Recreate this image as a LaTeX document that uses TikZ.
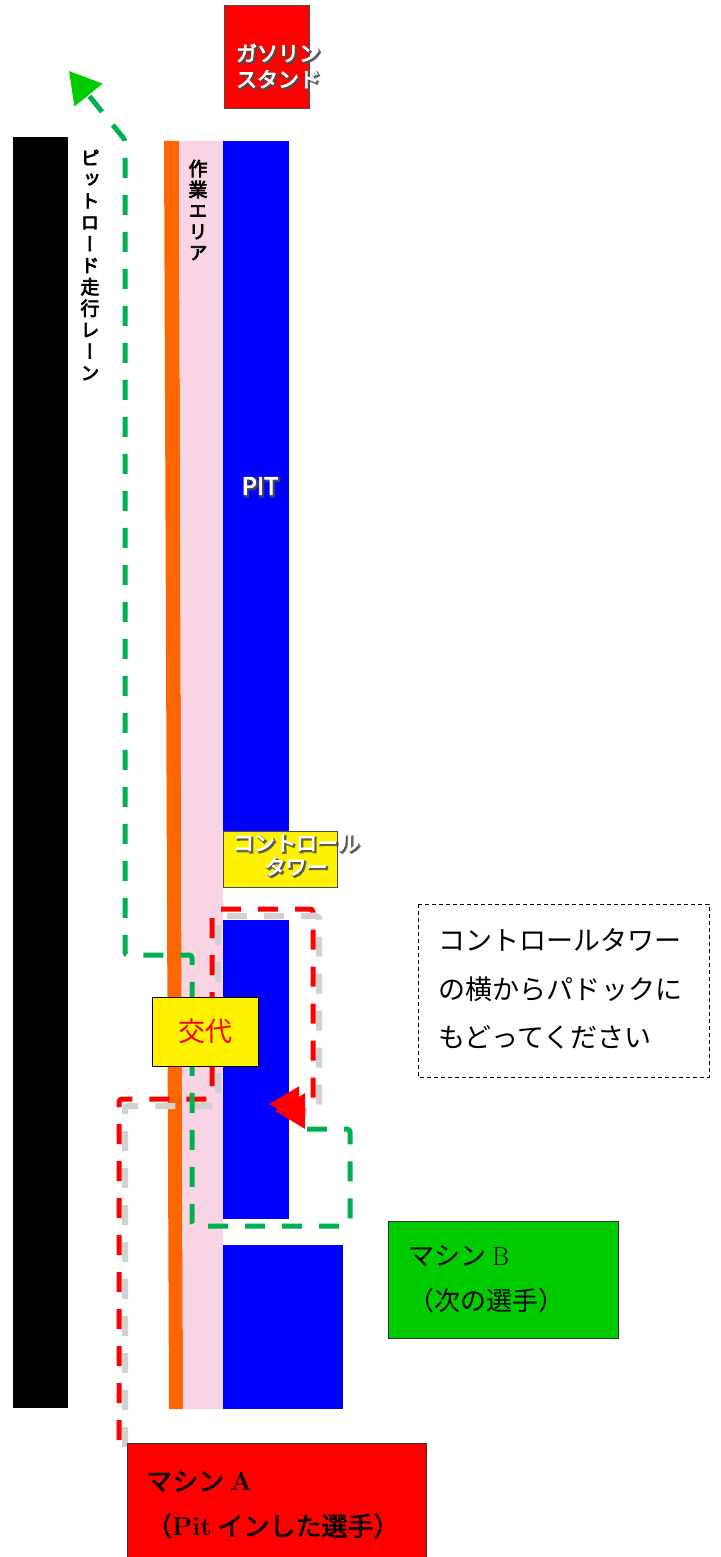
\documentclass[tikz,border=0pt]{standalone}
\usepackage{fontspec}
\usetikzlibrary{arrows.meta}
\newfontfamily\jp{Noto Sans CJK JP}
\newfontfamily\jpb{Noto Sans CJK JP}[FakeBold=2]
\newfontfamily\jpo{Noto Sans CJK JP}[FakeBold=3.5]
\newfontfamily\jps{Noto Sans CJK JP}[FakeBold=11]
\newfontfamily\jpv{Noto Sans CJK JP}[FakeBold=3.5,RawFeature=+vert]
\definecolor{pitorange}{HTML}{FF6600}
\definecolor{workpink}{HTML}{F8D4E4}
\definecolor{pitblue}{HTML}{0000FF}
\definecolor{routegreen}{HTML}{00B050}
\definecolor{headgreen}{HTML}{00CC00}
\definecolor{machgreen}{HTML}{00CC00}

\tikzset{
  lane/.style={inner sep=0pt, align=center, font=\jpv\fontsize{19}{21.5}\selectfont},
  glow/.style={inner sep=0pt, align=center, text=white},
  shade/.style={inner sep=0pt, align=center, text=black!70, text opacity=0.8},
  memo/.style={inner sep=0pt, align=left, anchor=west},
  redroute/.style={draw=red, line width=5pt, dash pattern=on 20pt off 17pt,
    rounded corners=3pt,
    preaction={draw=black!18, line width=6pt, dash pattern=on 20pt off 17pt,
      transform canvas={shift={(6pt,-7pt)}}}},
  greenroute/.style={draw=routegreen, line width=5pt, dash pattern=on 20pt off 17pt,
    rounded corners=3pt}
}

\begin{document}
\begin{tikzpicture}[x=1pt, y=-1pt]
    \useasboundingbox (0,0) rectangle (720,1557);

    % Draw the lanes of the pit road
    \fill[black] (13,137) rectangle (68,1408);
    \fill[pitorange] (164,141) -- (179,141) -- (183,1409) -- (169,1409) -- cycle;
    \fill[workpink] (179,141) -- (223,141) -- (223,1409) -- (183,1409) -- cycle;

    % Draw the pit boxes
    \fill[pitblue] (223,141) rectangle (289,831);
    \fill[pitblue] (223,920) rectangle (289,1219);
    \fill[pitblue] (223,1245) rectangle (343,1409);

    % Gas stand
    \draw[black!70, fill=red] (224,5) rectangle (309,108);
    \node[shade, font=\jps\fontsize{21}{26}\selectfont] (gasS) at (279.5,67.5)
        {ガソリン\\スタンド};
    \node[glow, font=\jpo\fontsize{21}{26}\selectfont] (gas) at (278,66)
        {ガソリン\\スタンド};

    % Vertical labels
    \node[lane] (lane) at (90,265) {ピ\\ッ\\ト\\ロ\\ー\\ド\\走\\行\\レ\\ー\\ン};
    \node[lane, font=\jpv\fontsize{19}{21}\selectfont] (work) at (198,210) {作\\業\\エ\\リ\\ア};

    % PIT label
    \node[shade, font=\jps\fontsize{24}{26}\selectfont] (pitS) at (261.5,487.5) {PIT};
    \node[glow, font=\jpo\fontsize{24}{26}\selectfont] (pit) at (260,486) {PIT};

    % Control tower
    \draw[black!70, fill=yellow] (223,831) rectangle (337,887);
    \node[shade, font=\jps\fontsize{21}{24}\selectfont] (towerS) at (297.5,856.5)
        {コントロール\\タワー};
    \node[glow, font=\jpo\fontsize{21}{24}\selectfont] (tower) at (296,855)
        {コントロール\\タワー};

    % Route of machine A
    \coordinate (r0) at (119,1440);
    \coordinate (r1) at (119,1099);
    \coordinate (r2) at (212,1099);
    \coordinate (r3) at (212,909);
    \coordinate (r4) at (313,909);
    \coordinate (r5) at (313,1104);
    \coordinate (r6) at (269,1104);
    \draw[redroute, -{Triangle[length=30pt,width=34pt,color=red,fill=red]}]
        (r0) -- (r1) -- (r2) -- (r3) -- (r4) -- (r5) -- (r6);

    % Route of machine B
    \coordinate (g0) at (307,1129);
    \coordinate (g1) at (350,1129);
    \coordinate (g2) at (350,1226);
    \coordinate (g3) at (192,1226);
    \coordinate (g4) at (192,955);
    \coordinate (g5) at (125,955);
    \coordinate (g6) at (125,140);
    \coordinate (g7) at (69,71);
    \draw[greenroute, -{Triangle[length=31pt,width=35pt,color=headgreen,fill=headgreen]}]
        (g0) -- (g1) -- (g2) -- (g3) -- (g4) -- (g5) -- (g6) -- (g7);

    % Change-over box
    \node[draw=black, fill=yellow, minimum width=106, minimum height=69,
        text=red, font=\jp\fontsize{27}{30}\selectfont] (swap) at (205,1031.5) {交代};

    % Note
    \draw[black, line width=1pt, dash pattern=on 4pt off 3pt] (418,904) rectangle (709,1077);
    \node[memo, font=\jp\fontsize{27}{48.5}\selectfont] (note) at (438,989)
        {コントロールタワー\\の横からパドックに\\もどってください};

    % Machine B
    \draw[black!80, fill=machgreen] (388,1221) rectangle (618,1338);
    \node[memo, font=\jp\fontsize{26}{45}\selectfont] (mB) at (408,1279.5)
        {マシン \rmfamily B\\（次の選手）};

    % Machine A
    \draw[black!80, fill=red] (127,1443) rectangle (426,1560);
    \node[memo, font=\jpb\fontsize{26}{45}\selectfont] (mA) at (146,1504.5)
        {マシン {\rmfamily\bfseries A}\\（{\rmfamily\bfseries Pit} インした選手）};
\end{tikzpicture}
\end{document}
